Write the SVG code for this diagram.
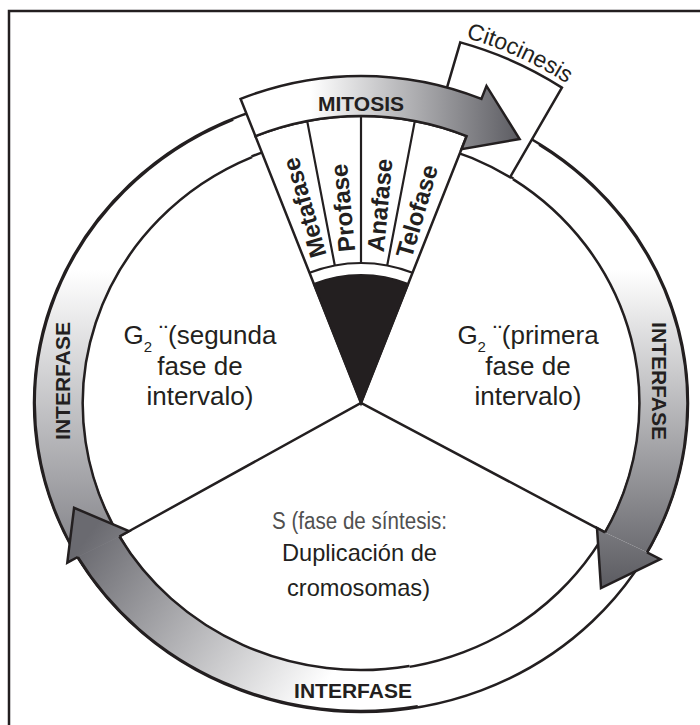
<svg xmlns="http://www.w3.org/2000/svg" width="700" height="725" viewBox="0 0 700 725">
<defs>
<linearGradient id="gMit" gradientUnits="userSpaceOnUse" x1="310" y1="0" x2="522" y2="0">
<stop offset="0" stop-color="#ffffff"/><stop offset="1" stop-color="#5a5a60"/>
</linearGradient>
<linearGradient id="gRight" gradientUnits="userSpaceOnUse" x1="0" y1="270" x2="0" y2="590">
<stop offset="0" stop-color="#ffffff"/><stop offset="1" stop-color="#5a5a60"/>
</linearGradient>
<linearGradient id="gLeft" gradientUnits="userSpaceOnUse" x1="0" y1="270" x2="0" y2="575">
<stop offset="0" stop-color="#ffffff"/><stop offset="1" stop-color="#7a7a80"/>
</linearGradient>
<linearGradient id="gBottom" gradientUnits="userSpaceOnUse" x1="310" y1="705" x2="85" y2="540">
<stop offset="0" stop-color="#ffffff"/><stop offset="1" stop-color="#6a6a70"/>
</linearGradient>
<path id="citoArc" d="M427 28.8 A380 380 0 0 1 599.1 106.9"/>
</defs>
<style>
.ln{fill:none;stroke:#231f20;stroke-width:2.5;stroke-linejoin:miter}
.thin{fill:none;stroke:#231f20;stroke-width:2.2}
.wf{fill:#ffffff;stroke:#231f20;stroke-width:2.5}
.lbl{font-family:"Liberation Sans",Arial,sans-serif;fill:#231f20}
.b{font-weight:bold}
.ph{font-family:"Liberation Sans",Arial,sans-serif;font-weight:bold;font-size:24px;fill:#231f20}
.big{font-family:"Liberation Sans",Arial,sans-serif;font-size:26px;fill:#231f20;text-anchor:middle}
</style>

<g id="frame">
<path class="ln" d="M9 725 V11 H700"/>
</g>

<g id="ring">
<ellipse cx="361" cy="403" rx="327" ry="309" class="wf"/>
</g>

<g id="cell">
<ellipse cx="361" cy="403" rx="279" ry="268" class="wf"/>
<path class="ln" d="M119.4 536.5 L361 403 L605 532.4"/>
</g>

<g id="g2-segunda">
<text class="big" x="200" y="344">G<tspan font-size="15" dy="8">2</tspan><tspan dy="-8"> ¨(segunda</tspan></text>
<text class="big" x="200" y="375">fase de</text>
<text class="big" x="200" y="405">intervalo)</text>
</g>

<g id="g2-primera">
<text class="big" x="528" y="344">G<tspan font-size="15" dy="8">2</tspan><tspan dy="-8"> ¨(primera</tspan></text>
<text class="big" x="528" y="375">fase de</text>
<text class="big" x="528" y="405">intervalo)</text>
</g>

<g id="s-sintesis">
<text class="lbl" x="359.5" y="529" text-anchor="middle" font-size="23" style="fill:#505050" textLength="175" lengthAdjust="spacingAndGlyphs">S (fase de síntesis:</text>
<text class="lbl" x="359.5" y="561" text-anchor="middle" font-size="24" textLength="155" lengthAdjust="spacingAndGlyphs">Duplicación de</text>
<text class="lbl" x="358.5" y="596" text-anchor="middle" font-size="24" textLength="143" lengthAdjust="spacingAndGlyphs">cromosomas)</text>
</g>

<g id="citocinesis">
<path class="wf" d="M460.3 42.4 A374 374 0 0 1 561.9 87.6 L510 177.3 A279 268 0 0 0 430.3 144.4 Z"/>
<text class="lbl" font-size="23"><textPath href="#citoArc" startOffset="50%" text-anchor="middle">Citocinesis</textPath></text>
</g>

<g id="mitosis-phases">
<path class="wf" d="M361 403 L255.4 136.1 A287 287 0 0 1 466.6 136.1 Z"/>
<path class="thin" d="M334.8 265.5 L307.2 121.1 M361 263 L361 116 M387.2 265.5 L414.8 121.1"/>
<path class="thin" d="M309.5 272.8 A140 140 0 0 1 412.5 272.8"/>
<path d="M361 403 L313.9 284 A128 128 0 0 1 408.1 284 Z" fill="#231f20" stroke="#231f20" stroke-width="2"/>
<text class="ph" transform="translate(318.6 257) rotate(-106.2)" x="0" y="8.5">Metafase</text>
<text class="ph" transform="translate(346.7 251.7) rotate(-95.4)" x="0" y="8.5">Profase</text>
<text class="ph" transform="translate(375.3 251.7) rotate(-84.6)" x="0" y="8.5">Anafase</text>
<text class="ph" transform="translate(403.4 257) rotate(-73.8)" x="0" y="8.5">Telofase</text>
</g>

<g id="connectors">
<path d="M83.7 566.2 A327 309 0 0 1 233.2 119.5 L252 157.2 A279 268 0 0 0 124.4 544.5 Z" fill="url(#gLeft)"/>
<path class="ln" d="M83.7 566.2 A327 309 0 0 1 233.2 119.5 M252 157.2 A279 268 0 0 0 124.4 544.5"/>
<path d="M539.1 144.7 A327 309 0 0 1 647 552.3 L605 532.4 A279 268 0 0 0 513 179.1 Z" fill="url(#gRight)"/>
<path class="ln" d="M539.1 144.7 A327 309 0 0 1 647 552.3 M605 532.4 A279 268 0 0 0 513 179.1"/>
<path d="M417.8 706.3 A327 309 0 0 1 77.8 557 L119.4 536.5 A279 268 0 0 0 409.4 665.9 Z" fill="url(#gBottom)"/>
<path class="ln" d="M417.8 706.3 A327 309 0 0 1 77.8 557 M119.4 536.5 A279 268 0 0 0 409.4 665.9"/>
<path d="M605 532.4 L597 528 L601 588 L660.3 559.2 L647 552.3 Z" fill="url(#gRight)"/>
<path class="ln" d="M605 532.4 L597 528 L601 588 L660.3 559.2 L647 552.3"/>
<path d="M119.4 536.5 L129 531.2 L74.1 507.8 L67.3 562.7 L77.8 557 Z" fill="url(#gBottom)"/>
<path class="ln" d="M119.4 536.5 L129 531.2 L74.1 507.8 L67.3 562.7 L77.8 557"/>
<path d="M255.4 136.1 L240.6 98.9 A327 327 0 0 1 481.4 98.9 L486.5 85.9 L519.6 139 L461.5 149.2 L466.6 136.1 A287 287 0 0 0 255.4 136.1 Z" fill="url(#gMit)" stroke="#231f20" stroke-width="2.5"/>
<text class="lbl b" x="361" y="111" text-anchor="middle" font-size="21">MITOSIS</text>
<text class="lbl b" x="353" y="698" text-anchor="middle" font-size="21">INTERFASE</text>
<text class="lbl b" transform="translate(70 381) rotate(-90)" x="0" y="0" text-anchor="middle" font-size="21">INTERFASE</text>
<text class="lbl b" transform="translate(652 381) rotate(90)" x="0" y="0" text-anchor="middle" font-size="21">INTERFASE</text>
</g>
</svg>
